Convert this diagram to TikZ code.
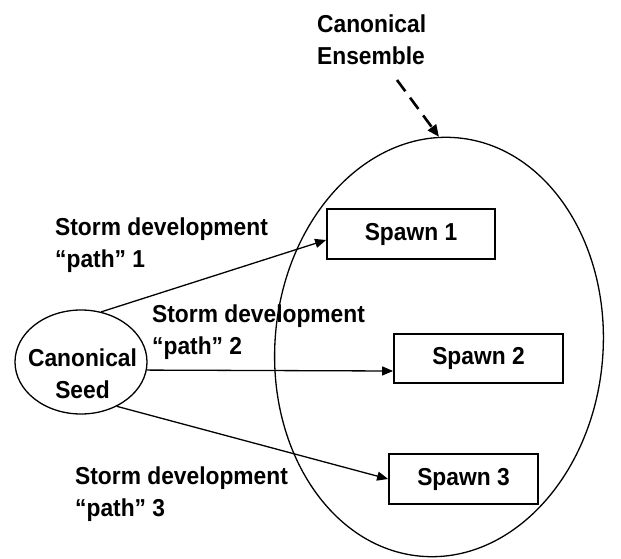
\documentclass[tikz,border=0pt]{standalone}
\usepackage{fontspec}
\setmainfont{Liberation Sans}[FakeStretch=0.93]
\usetikzlibrary{arrows.meta,shapes.geometric,calc}
\begin{document}
\begin{tikzpicture}[x=1pt,y=-1pt,
  every node/.style={font=\fontsize{24.5}{32}\selectfont\bfseries},
  lbl/.style={anchor=north west, inner sep=0pt, align=left},
  spawnbox/.style={draw, line width=1.8pt, inner sep=0pt},
  oval/.style={draw, ellipse, line width=1.3pt, inner sep=0pt},
  conn/.style={line width=1.3pt, -{Triangle[length=11pt,width=9pt]}},
  ensarrow/.style={line width=2.6pt, dash pattern=on 14pt off 8pt, -{Triangle[length=12pt,width=10pt]}}
]
\useasboundingbox (0,0) rectangle (621,559);

% big ensemble ellipse
\node[oval, minimum width=328pt, minimum height=420pt, rotate=-5] (ens) at (439,347) {};

% seed
\node[oval, minimum width=132pt, minimum height=104pt] (seed) at (81,362) {};
\node[anchor=north, align=center, inner sep=0pt] (seedtxt) at (82.5,349) {Canonical\\Seed};

% spawns
\node[spawnbox, minimum width=168pt, minimum height=50pt] (sp1) at (411,234) {Spawn 1};
\node[spawnbox, minimum width=169pt, minimum height=49pt] (sp2) at (478.5,358.5) {Spawn 2};
\node[spawnbox, minimum width=149pt, minimum height=50pt] (sp3) at (463.5,479) {Spawn 3};

% labels
\node[lbl] (enslbl) at (317,15) {Canonical\\Ensemble};
\node[lbl] (path1) at (55,218) {Storm development\\“path” 1};
\node[lbl] (path2) at (152,305) {Storm development\\“path” 2};
\node[lbl] (path3) at (75,467) {Storm development\\“path” 3};

% connectors
\draw[conn] (seed.68) -- ([yshift=-6pt]sp1.west);
\draw[conn] (seed.-7) -- ([yshift=-12.5pt]sp2.west);
\draw[conn] (seed.-51) -- (sp3.west);

\coordinate (enstail) at (397,80);
\draw[ensarrow] (enstail) -- (ens.95);
\end{tikzpicture}
\end{document}
